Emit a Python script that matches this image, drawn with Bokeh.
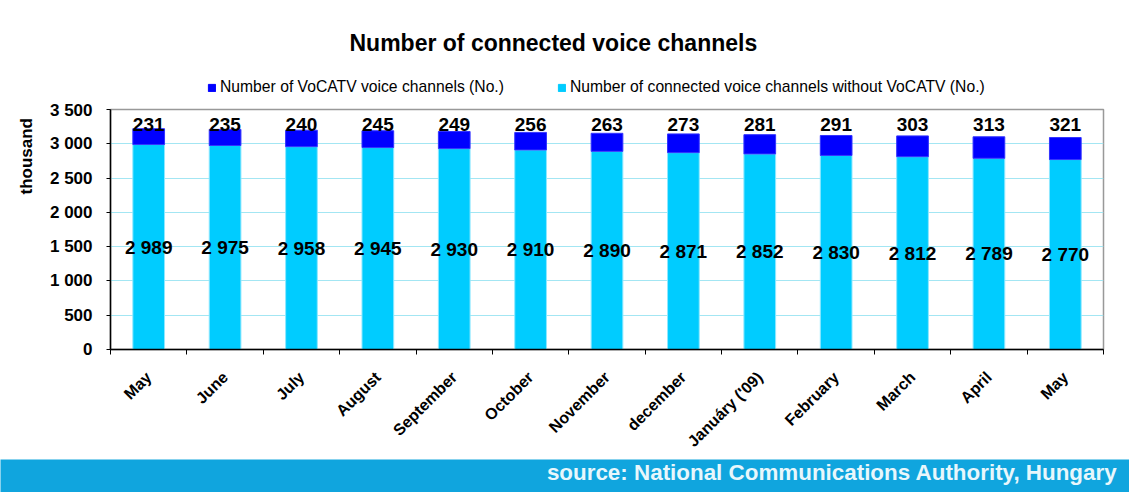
import math
from bokeh.plotting import figure
from bokeh.layouts import column
from bokeh.models import (ColumnDataSource, FixedTicker, Legend, LegendItem, Label, Range1d)
from bokeh.core.properties import value
from bokeh.embed import file_html
from bokeh.resources import INLINE

# ---- data ----
months = ["May", "June", "July", "August", "September", "October", "November",
          "december", "Januáry ('09)", "February", "March", "April", "May"]
vocatv = [231, 235, 240, 245, 249, 256, 263, 273, 281, 291, 303, 313, 321]
without_vocatv = [2989, 2975, 2958, 2945, 2930, 2910, 2890, 2871, 2852, 2830, 2812, 2789, 2770]
y_ticks = [0, 500, 1000, 1500, 2000, 2500, 3000, 3500]

title_text = "Number of connected voice channels"
legend_vocatv = "Number of VoCATV voice channels (No.)"
legend_without = "Number of connected voice channels without VoCATV (No.)"
y_label = "thousand"
source_text = "source: National Communications Authority, Hungary"

FONT = "Liberation Sans"
DARK = "#0000FF"
CYAN = "#00CCFF"
BAND = "#10A5DE"
W = 1129


def fmt(v):
    return f"{v:,}".replace(",", " ")


idx = list(range(len(months)))
totals = [a + b for a, b in zip(without_vocatv, vocatv)]
src = ColumnDataSource(dict(
    x=idx,
    base=without_vocatv,
    top=totals,
    mid=[b / 2 for b in without_vocatv],
    lab_base=[fmt(v) for v in without_vocatv],
    lab_vo=[fmt(v) for v in vocatv],
    lab_y=[max(totals)] * len(idx),
))

# ---------------- header: title + legend ----------------
h = figure(width=W, height=100, output_backend="svg", toolbar_location=None,
           x_range=Range1d(0, 1), y_range=Range1d(0, 1), min_border=0,
           frame_align=False, background_fill_color="white", border_fill_color="white")
h.axis.visible = False
h.grid.visible = False
h.outline_line_color = None
h.add_layout(Label(x=349, y=58, x_units="screen", y_units="screen", text=title_text,
                   text_align="left", text_baseline="middle", text_font=FONT,
                   text_font_style="bold", text_font_size="23px", text_color="black"))
# legend keys: same series as the chart, kept hidden in the header
k_dark = h.vbar(x="x", bottom="base", top="top", width=0.415, source=src,
                fill_color=DARK, line_color=DARK, visible=False)
k_cyan = h.vbar(x="x", bottom=0, top="base", width=0.415, source=src,
                fill_color=CYAN, line_color=CYAN, visible=False)
legend = Legend(items=[LegendItem(label=legend_vocatv, renderers=[k_dark]),
                       LegendItem(label=legend_without, renderers=[k_cyan])],
                orientation="horizontal", location=(207, 4), padding=0, margin=0,
                spacing=53, glyph_width=9, glyph_height=9, label_height=15,
                label_standoff=4, label_text_font=FONT, label_text_font_size="15.7px",
                label_text_color="black", border_line_color=None,
                background_fill_alpha=0, inactive_fill_alpha=0, click_policy="none")
h.add_layout(legend)

# ---------------- main chart ----------------
p = figure(width=W, height=359, output_backend="svg", toolbar_location=None,
           x_range=Range1d(-0.5, len(months) - 0.5), y_range=Range1d(0, 3500),
           min_border_left=110, min_border_right=26, min_border_top=9,
           min_border_bottom=110, background_fill_color="white",
           border_fill_color="white")

p.vbar(x="x", bottom=0, top="base", width=0.415, source=src,
       fill_color=CYAN, line_color="#8FE8FF", line_width=1)
p.vbar(x="x", bottom="base", top="top", width=0.415, source=src,
       fill_color=DARK, line_color="#3333FF", line_width=1)

p.text(x="x", y="mid", text="lab_base", source=src, text_align="center",
       text_baseline="middle", text_font=value(FONT), text_font_style="bold",
       text_font_size="19px", text_color="black")
p.text(x="x", y="lab_y", text="lab_vo", source=src, text_align="center",
       text_baseline="middle", y_offset=-4, text_font=value(FONT),
       text_font_style="bold", text_font_size="19px", text_color="black")

p.yaxis.ticker = FixedTicker(ticks=y_ticks)
p.yaxis.major_label_overrides = {t: fmt(t) for t in y_ticks}
p.yaxis.minor_tick_line_color = None
p.yaxis.major_tick_out = 4
p.yaxis.major_tick_in = 0
p.yaxis.major_label_standoff = 14
p.yaxis.major_label_text_font = FONT
p.yaxis.major_label_text_font_style = "bold"
p.yaxis.major_label_text_font_size = "17px"
p.yaxis.major_label_text_color = "black"
# the axis title sits in the upper part of the axis: pad its start with no-break spaces
p.yaxis.axis_label = "\u00a0" * 31 + y_label
p.yaxis.axis_label_text_font = FONT
p.yaxis.axis_label_text_font_style = "bold"
p.yaxis.axis_label_text_font_size = "17px"
p.yaxis.axis_label_text_color = "black"
p.yaxis.axis_label_standoff = 11
p.yaxis.axis_line_color = "black"
p.yaxis.axis_line_width = 1.5
p.yaxis.major_tick_line_color = "black"

p.xaxis.ticker = FixedTicker(ticks=idx, minor_ticks=[i - 0.5 for i in range(len(months) + 1)])
p.xaxis.major_label_overrides = {i: m for i, m in enumerate(months)}
p.xaxis.major_label_orientation = math.pi / 4
p.xaxis.major_tick_line_color = None
p.xaxis.major_tick_out = 0
p.xaxis.major_tick_in = 0
p.xaxis.minor_tick_out = 5
p.xaxis.minor_tick_in = 0
p.xaxis.minor_tick_line_color = "black"
p.xaxis.major_label_standoff = 20
p.xaxis.major_label_text_font = FONT
p.xaxis.major_label_text_font_style = "bold"
p.xaxis.major_label_text_font_size = "16px"
p.xaxis.major_label_text_color = "black"
p.xaxis.axis_line_color = "black"
p.xaxis.axis_line_width = 1.5

p.xgrid.grid_line_color = None
p.ygrid.ticker = FixedTicker(ticks=y_ticks)
p.ygrid.grid_line_color = "#A3E6F3"
p.ygrid.grid_line_width = 1
p.outline_line_color = "#999999"
p.outline_line_width = 1.5

# ---------------- footer band ----------------
f = figure(width=W, height=33, output_backend="svg", toolbar_location=None,
           x_range=Range1d(0, 1), y_range=Range1d(0, 1), min_border=0,
           frame_align=False, background_fill_color=BAND, border_fill_color=BAND)
f.axis.visible = False
f.grid.visible = False
f.outline_line_color = None
f.add_layout(Label(x=1117, y=20, x_units="screen", y_units="screen", text=source_text,
                   text_align="right", text_baseline="middle", text_font=FONT,
                   text_font_style="bold", text_font_size="22.4px", text_color="#E8F7FC"))

layout = column(h, p, f, spacing=0)
open("out.html", "w").write(file_html(layout, INLINE))
